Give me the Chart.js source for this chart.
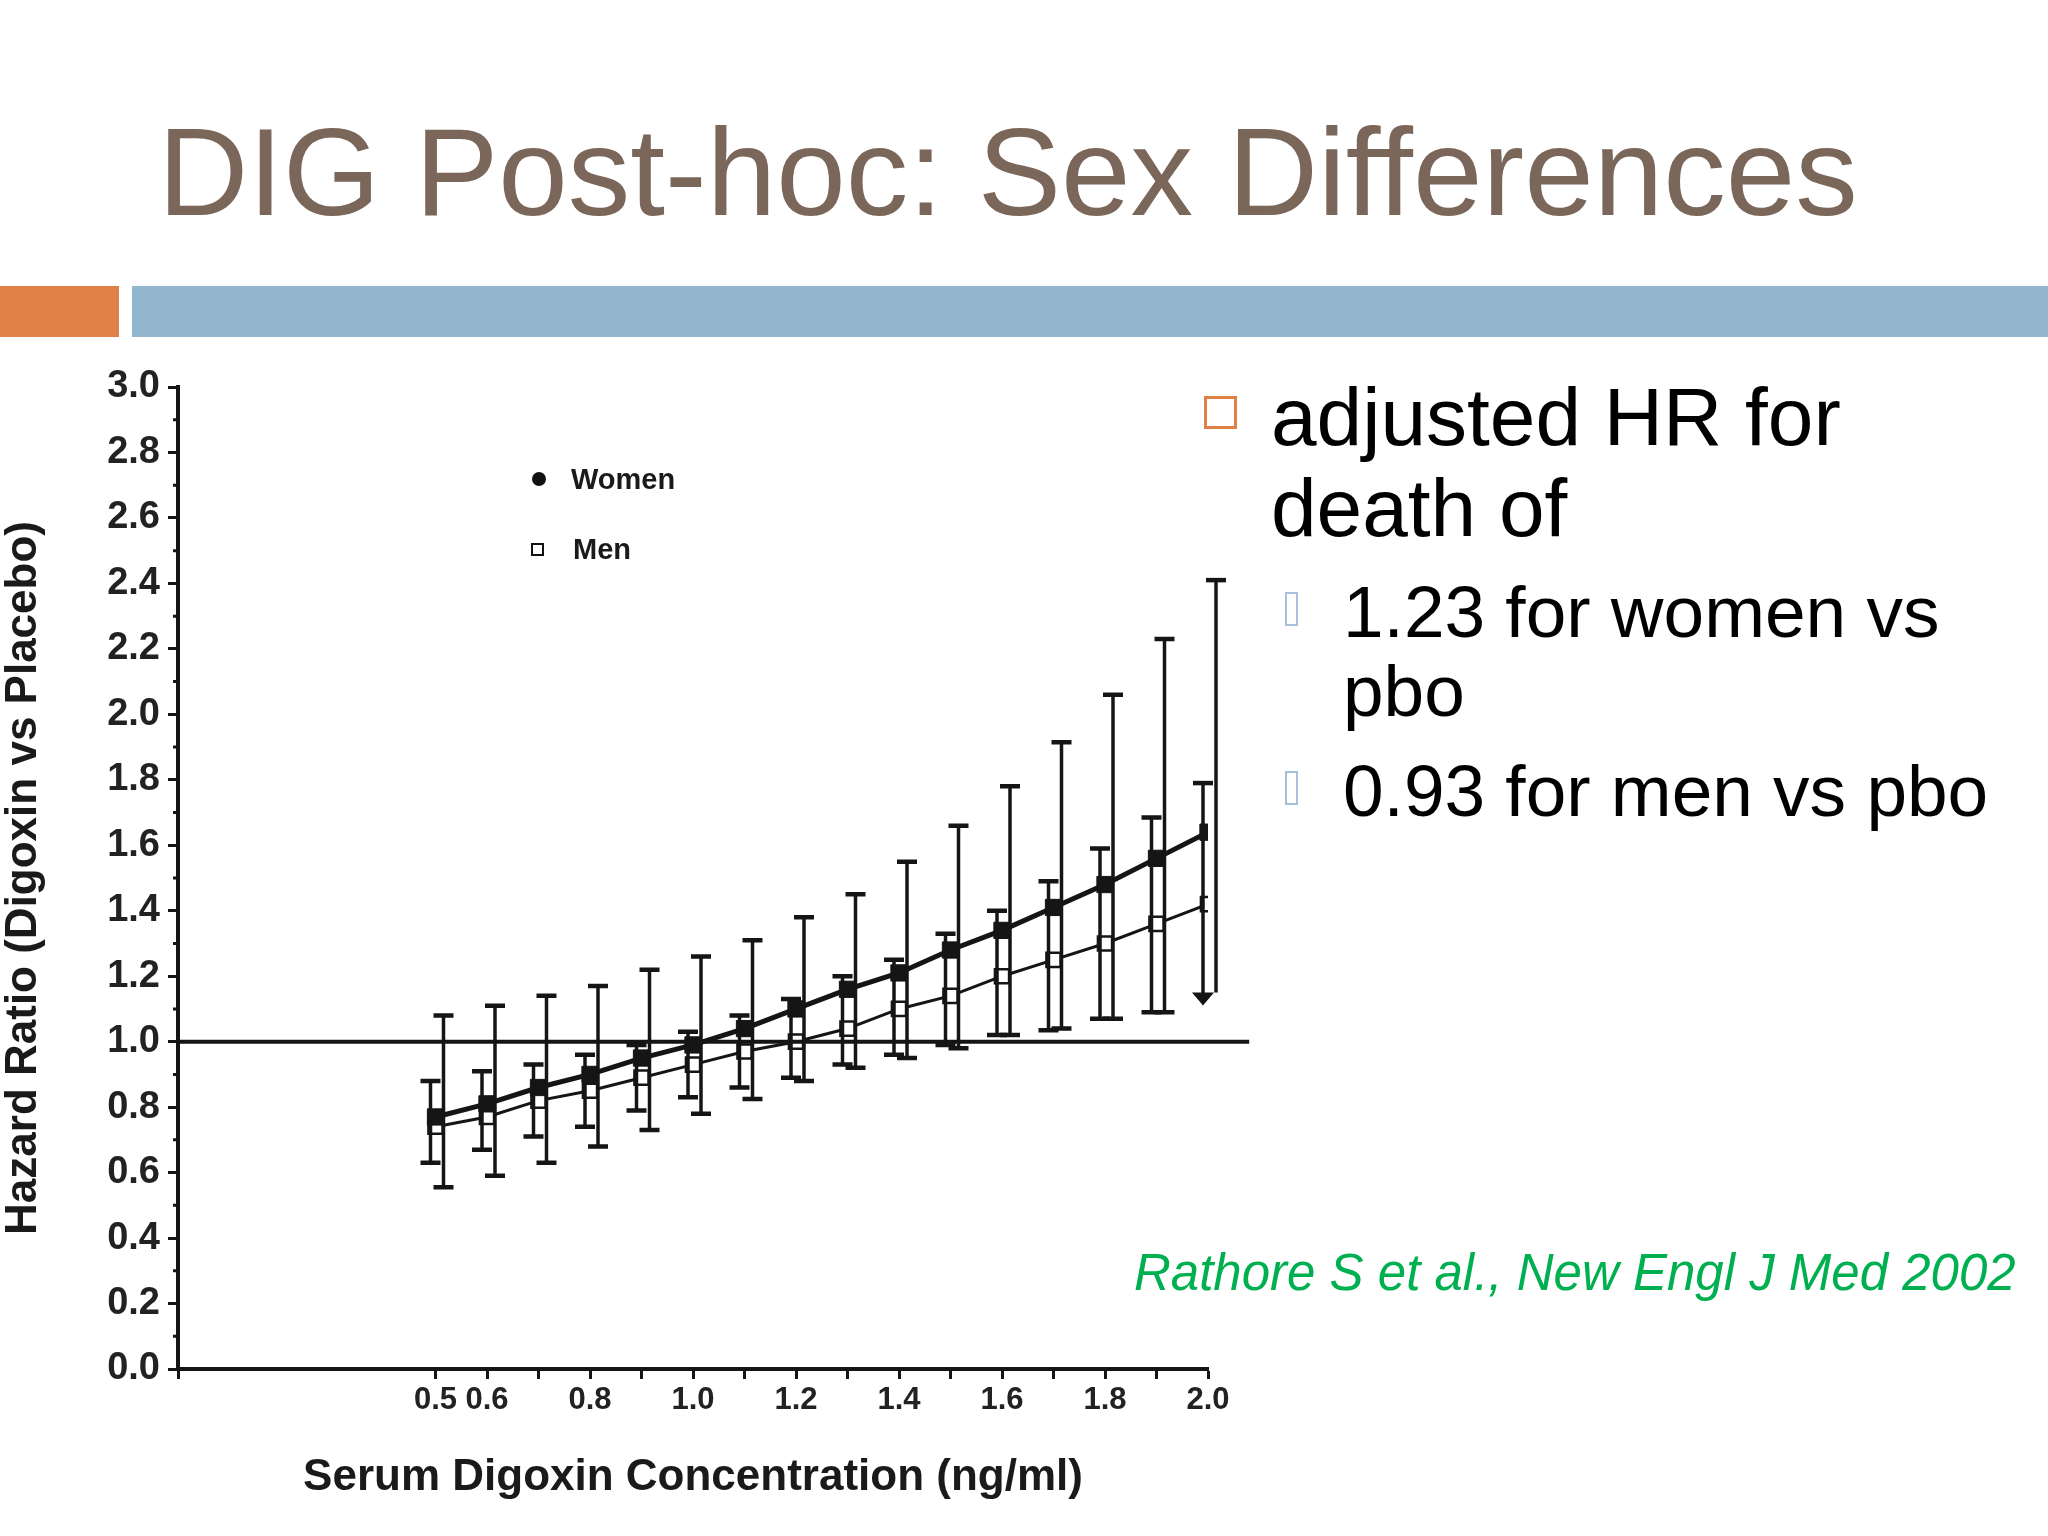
<!DOCTYPE html>
<html lang="en">
<head>
    <meta charset="UTF-8">
    <title>DIG Post-hoc: Sex Differences</title>
    <script src="https://cdn.jsdelivr.net/npm/chart.js"></script>
    <style>
        body {
            margin: 0;
            width: 2048px;
            height: 1536px;
            background: #fff;
            font-family: "Liberation Sans", Arial, sans-serif;
            position: relative;
            overflow: hidden;
        }
        .title {
            position: absolute;
            left: 158px;
            top: 109px;
            font-size: 125px;
            line-height: 125px;
            color: #7b665a;
            white-space: nowrap;
        }
        .bar-orange {
            position: absolute; left: 0; top: 286px; width: 119px; height: 51px;
            background: #e08046;
        }
        .bar-blue {
            position: absolute; left: 132px; top: 286px; width: 1916px; height: 51px;
            background: #93b6cf;
        }
        #chartBox {
            position: absolute;
            left: 0;
            top: 340px;
            width: 1290px;
            height: 1196px;
        }
        .legend {
            position: absolute;
            font-weight: bold;
            font-size: 29px;
            line-height: 30px;
            color: #1a1a1a;
            white-space: nowrap;
        }
        .dot {
            position: absolute; width: 14px; height: 14px; border-radius: 50%;
            background: #111;
        }
        .sq {
            position: absolute; width: 9px; height: 9px; border: 2.5px solid #111;
            background: #fff;
        }
        .txt {
            position: absolute;
            white-space: nowrap;
            color: #000;
        }
        .main {
            left: 1271px; top: 371px;
            font-size: 82px; line-height: 91px;
        }
        .sub {
            left: 1343px;
            font-size: 73px; line-height: 79px;
        }
        .bullet {
            position: absolute; left: 1204px; top: 396px; width: 27px; height: 27px;
            border: 3px solid #e08046;
        }
        .tofu {
            position: absolute; width: 9px; height: 30px;
            border: 2px solid #a7c1da;
        }
        .cite {
            position: absolute;
            left: 1134px; top: 1247px;
            font-size: 51px; line-height: 51px;
            font-style: italic;
            color: #00b050;
            white-space: nowrap;
        }
    </style>
</head>
<body>
    <div class="title">DIG Post-hoc: Sex Differences</div>
    <div class="bar-orange"></div>
    <div class="bar-blue"></div>

    <div id="chartBox"><canvas id="hrChart"></canvas></div>

    <!-- legend inside the plot -->
    <div class="dot" style="left:532px; top:472px;"></div>
    <div class="legend" style="left:571px; top:464px;">Women</div>
    <div class="sq" style="left:531px; top:543px;"></div>
    <div class="legend" style="left:573px; top:534px;">Men</div>

    <!-- right hand text -->
    <div class="bullet"></div>
    <div class="txt main">adjusted HR for<br>death of</div>
    <div class="tofu" style="left:1285px; top:592px;"></div>
    <div class="txt sub" style="top:572px;">1.23 for women vs<br>pbo</div>
    <div class="tofu" style="left:1285px; top:771px;"></div>
    <div class="txt sub" style="top:751px;">0.93 for men vs pbo</div>
    <div class="cite">Rathore S et al., New Engl J Med 2002</div>

    <script>
        // Serum digoxin concentration (ng/ml)
        const concentration = [0.5, 0.6, 0.7, 0.8, 0.9, 1.0, 1.1, 1.2, 1.3, 1.4, 1.5, 1.6, 1.7, 1.8, 1.9, 2.0];

        // Hazard ratios
        const womenHR   = [0.77, 0.81, 0.86, 0.90, 0.95, 0.99, 1.04, 1.10, 1.16, 1.21, 1.28, 1.34, 1.41, 1.48, 1.56, 1.64];
        const womenLow  = [0.555, 0.59, 0.63, 0.68, 0.73, 0.78, 0.825, 0.88, 0.92, 0.95, 0.98, 1.02, 1.04, 1.07, 1.09, 1.15];
        const womenHigh = [1.08, 1.11, 1.14, 1.17, 1.22, 1.26, 1.31, 1.38, 1.45, 1.55, 1.66, 1.78, 1.915, 2.06, 2.23, 2.41];

        const menHR   = [0.74, 0.77, 0.82, 0.85, 0.89, 0.93, 0.97, 1.00, 1.04, 1.10, 1.14, 1.20, 1.25, 1.30, 1.36, 1.42];
        const menLow  = [0.63, 0.67, 0.71, 0.74, 0.79, 0.83, 0.86, 0.89, 0.93, 0.96, 0.99, 1.02, 1.035, 1.07, 1.09, 1.12];
        const menHigh = [0.88, 0.91, 0.93, 0.96, 0.99, 1.03, 1.08, 1.13, 1.20, 1.25, 1.33, 1.40, 1.49, 1.59, 1.685, 1.79];

        // reference line HR = 1 (runs a little past the last tick)
        const refLineX = [0, 2.08];
        const refLineY = [1.0, 1.0];

        // axis ticks
        const xTicks      = [0, 0.5, 0.6, 0.7, 0.8, 0.9, 1.0, 1.1, 1.2, 1.3, 1.4, 1.5, 1.6, 1.7, 1.8, 1.9, 2.0];
        const xTickLabels = ['', '0.5', '0.6', '', '0.8', '', '1.0', '', '1.2', '', '1.4', '', '1.6', '', '1.8', '', '2.0'];
        const yTickLabels = ['0.0', '0.2', '0.4', '0.6', '0.8', '1.0', '1.2', '1.4', '1.6', '1.8', '2.0', '2.2', '2.4', '2.6', '2.8', '3.0'];

        const FONT = "'Liberation Sans', Arial, Helvetica, sans-serif";
        const INK = '#151515';

        const toPoints = (xs, ys) => xs.map((x, i) => ({ x: x, y: ys[i] }));

        // draws the confidence intervals and the small y minor ticks
        const errorBars = {
            id: 'errorBars',
            afterDatasetsDraw(chart) {
                const { ctx, scales: { x, y } } = chart;
                const cap = 10;
                ctx.save();
                ctx.strokeStyle = INK;
                ctx.fillStyle = INK;
                ctx.lineCap = 'butt';

                const drawBar = (px, lo, hi, lowerCap, arrow) => {
                    const yl = y.getPixelForValue(lo);
                    const yh = y.getPixelForValue(hi);
                    ctx.lineWidth = 3.5;
                    ctx.beginPath();
                    ctx.moveTo(px, yh);
                    ctx.lineTo(px, arrow ? yl - 8 : yl);
                    ctx.stroke();
                    ctx.lineWidth = 4.5;
                    ctx.beginPath();
                    ctx.moveTo(px - cap, yh);
                    ctx.lineTo(px + cap, yh);
                    if (lowerCap) {
                        ctx.moveTo(px - cap, yl);
                        ctx.lineTo(px + cap, yl);
                    }
                    ctx.stroke();
                    if (arrow) {
                        ctx.beginPath();
                        ctx.moveTo(px - 11, yl - 10);
                        ctx.lineTo(px + 11, yl - 10);
                        ctx.lineTo(px, yl + 3);
                        ctx.closePath();
                        ctx.fill();
                    }
                };

                const last = concentration.length - 1;
                concentration.forEach((c, i) => {
                    const px = x.getPixelForValue(c);
                    drawBar(px - 5, menLow[i], menHigh[i], i !== last, i === last);
                    drawBar(px + 8, womenLow[i], womenHigh[i], i !== last, false);
                });

                // short minor ticks on the y axis
                ctx.lineWidth = 3;
                ctx.beginPath();
                y.ticks.forEach(t => {
                    if (!yTickLabels.includes(t.value.toFixed(1))) {
                        const py = y.getPixelForValue(t.value);
                        ctx.moveTo(x.left - 5, py);
                        ctx.lineTo(x.left, py);
                    }
                });
                ctx.stroke();
                ctx.restore();
            }
        };

        const ctx = document.getElementById('hrChart').getContext('2d');
        new Chart(ctx, {
            type: 'line',
            data: {
                datasets: [
                    {
                        label: 'Reference',
                        data: toPoints(refLineX, refLineY),
                        borderColor: INK,
                        borderWidth: 4,
                        pointRadius: 0,
                        clip: false
                    },
                    {
                        label: 'Women',
                        data: toPoints(concentration, womenHR),
                        borderColor: INK,
                        borderWidth: 5,
                        pointStyle: 'rect',
                        pointRadius: 11.5,
                        pointBackgroundColor: INK,
                        pointBorderColor: INK,
                        pointBorderWidth: 1
                    },
                    {
                        label: 'Men',
                        data: toPoints(concentration, menHR),
                        borderColor: INK,
                        borderWidth: 3,
                        pointStyle: 'rect',
                        pointRadius: 10,
                        pointBackgroundColor: '#ffffff',
                        pointBorderColor: INK,
                        pointBorderWidth: 2.5
                    }
                ]
            },
            options: {
                responsive: true,
                maintainAspectRatio: false,
                animation: false,
                layout: { padding: { top: 47, right: 82, left: 0, bottom: 0 } },
                plugins: {
                    legend: { display: false },
                    tooltip: { enabled: false }
                },
                scales: {
                    x: {
                        type: 'linear',
                        min: 0,
                        max: 2.0,
                        afterBuildTicks: scale => {
                            scale.ticks = xTicks.map(v => ({ value: v }));
                        },
                        afterFit: scale => { scale.height = 167; },
                        grid: {
                            drawOnChartArea: false,
                            drawTicks: true,
                            tickLength: 10,
                            tickWidth: 3,
                            tickColor: INK
                        },
                        border: { display: true, color: INK, width: 4 },
                        ticks: {
                            autoSkip: false,
                            maxRotation: 0,
                            padding: 3,
                            color: '#222',
                            font: { family: FONT, size: 31, weight: 'bold' },
                            callback: (value, index) => xTickLabels[index]
                        },
                        title: {
                            display: true,
                            text: 'Serum Digoxin Concentration (ng/ml)',
                            color: '#1a1a1a',
                            font: { family: FONT, size: 44, weight: 'bold', lineHeight: 1 },
                            padding: { top: 0, bottom: 36 }
                        }
                    },
                    y: {
                        min: 0,
                        max: 3.0,
                        afterFit: scale => { scale.width = 178; },
                        grid: {
                            drawOnChartArea: false,
                            drawTicks: true,
                            tickLength: 10,
                            tickWidth: 3,
                            tickColor: c => (c.tick && yTickLabels.includes(c.tick.value.toFixed(1))) ? INK : 'rgba(0,0,0,0)'
                        },
                        border: { display: true, color: INK, width: 4 },
                        ticks: {
                            stepSize: 0.1,
                            autoSkip: false,
                            padding: 8,
                            color: '#222',
                            font: { family: FONT, size: 38, weight: 'bold' },
                            callback: value => {
                                const s = Number(value).toFixed(1);
                                return yTickLabels.includes(s) ? s : '';
                            }
                        },
                        title: {
                            display: true,
                            text: 'Hazard Ratio (Digoxin vs Placebo)',
                            color: '#1a1a1a',
                            font: { family: FONT, size: 44, weight: 'bold', lineHeight: 1 },
                            padding: { top: 2, bottom: 0 }
                        }
                    }
                }
            },
            plugins: [errorBars]
        });
    </script>
</body>
</html>
